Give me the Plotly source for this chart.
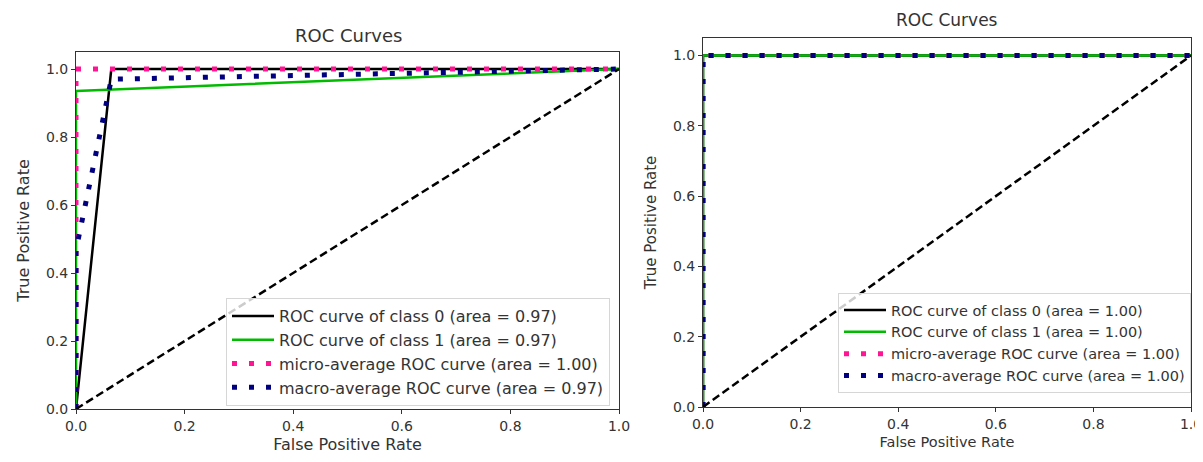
import plotly.graph_objects as go

# page body adds an 8px offset; the figure is sized to fill the remaining window
OFF = 8
W, H = 1203 - OFF, 462 - OFF

# ---------------- data ----------------
# Left panel
L_c0_fpr = [0.0, 0.065, 1.0]
L_c0_tpr = [0.0, 1.0, 1.0]
L_c1_fpr = [0.0, 0.0, 1.0]
L_c1_tpr = [0.0, 0.935, 1.0]
L_micro_fpr = [0.0, 0.0, 1.0]
L_micro_tpr = [0.0, 1.0, 1.0]
L_macro_fpr = [0.0, 0.0, 0.065, 1.0]
L_macro_tpr = [0.0, 0.4675, 0.97, 1.0]
L_labels = ["ROC curve of class 0 (area = 0.97)",
            "ROC curve of class 1 (area = 0.97)",
            "micro-average ROC curve (area = 1.00)",
            "macro-average ROC curve (area = 0.97)"]

# Right panel
R_c0_fpr = [0.0, 0.0, 1.0]
R_c0_tpr = [0.0, 1.0, 1.0]
R_c1_fpr = [0.0, 0.0, 1.0]
R_c1_tpr = [0.0, 1.0, 1.0]
R_micro_fpr = [0.0, 0.0, 1.0]
R_micro_tpr = [0.0, 1.0, 1.0]
R_macro_fpr = [0.0, 0.0, 1.0]
R_macro_tpr = [0.0, 1.0, 1.0]
R_labels = ["ROC curve of class 0 (area = 1.00)",
            "ROC curve of class 1 (area = 1.00)",
            "micro-average ROC curve (area = 1.00)",
            "macro-average ROC curve (area = 1.00)"]

diag = [0.0, 1.0]
ticks = [0.0, 0.2, 0.4, 0.6, 0.8, 1.0]
tick_text = ["0.0", "0.2", "0.4", "0.6", "0.8", "1.0"]
title = "ROC Curves"
xlab = "False Positive Rate"
ylab = "True Positive Rate"

# ---------------- styles ----------------
FONT = "DejaVu Sans"
TXT = "#333333"
styles = [
    dict(color="#000000", width=2.5, dash="solid"),
    dict(color="#00bb00", width=2.5, dash="solid"),
    dict(color="#ff1493", width=5, dash="5px,12px"),
    dict(color="#000080", width=5, dash="5px,12px"),
]

fig = go.Figure()

def add_panel(xa, ya, legend, series, labels):
    for (fx, ty), lab, st in zip(series, labels, styles):
        fig.add_trace(go.Scatter(x=fx, y=ty, mode="lines", name=lab, line=st,
                                 xaxis=xa, yaxis=ya, legend=legend))
    fig.add_trace(go.Scatter(x=diag, y=diag, mode="lines", showlegend=False,
                             line=dict(color="#000000", width=2.5, dash="8px,4px"),
                             xaxis=xa, yaxis=ya))

add_panel("x", "y", "legend",
          [(L_c0_fpr, L_c0_tpr), (L_c1_fpr, L_c1_tpr),
           (L_micro_fpr, L_micro_tpr), (L_macro_fpr, L_macro_tpr)], L_labels)
add_panel("x2", "y2", "legend2",
          [(R_c0_fpr, R_c0_tpr), (R_c1_fpr, R_c1_tpr),
           (R_micro_fpr, R_micro_tpr), (R_macro_fpr, R_macro_tpr)], R_labels)

# convert window pixel positions to paper fractions
def px_x(p):
    return (p - OFF) / W

def px_y(p):
    return (H - (p - OFF)) / H

def axis_common(fs):
    return dict(showgrid=False, zeroline=False, showline=True, mirror=True,
                linecolor="#333333", linewidth=1, ticks="outside", ticklen=4,
                tickcolor="#333333", tickfont=dict(family=FONT, size=fs, color=TXT),
                tickvals=ticks, ticktext=tick_text, automargin=False)

def leg_common(fs):
    return dict(xanchor="left", yanchor="top", itemwidth=42,
                bgcolor="rgba(255,255,255,0.8)", bordercolor="#d6d6d6", borderwidth=1,
                font=dict(family=FONT, size=fs, color=TXT))

fig.update_layout(
    width=W, height=H,
    margin=dict(l=0, r=0, t=0, b=0, autoexpand=False),
    paper_bgcolor="white", plot_bgcolor="white",
    font=dict(family=FONT, size=14, color=TXT),
    xaxis=dict(domain=[px_x(76), px_x(619)], range=[0, 1], anchor="y",
               title=dict(text=xlab, standoff=6, font=dict(family=FONT, size=16, color=TXT)),
               **axis_common(14)),
    yaxis=dict(domain=[px_y(409), px_y(52)], range=[0, 1.05], anchor="x",
               title=dict(text=ylab, standoff=12, font=dict(family=FONT, size=16, color=TXT)),
               **axis_common(14)),
    xaxis2=dict(domain=[px_x(703), px_x(1191)], range=[0, 1], anchor="y2",
                title=dict(text=xlab, standoff=6, font=dict(family=FONT, size=14.5, color=TXT)),
                **axis_common(14)),
    yaxis2=dict(domain=[px_y(407), px_y(38)], range=[0, 1.05], anchor="x2",
                title=dict(text=ylab, standoff=12, font=dict(family=FONT, size=15, color=TXT)),
                **axis_common(14)),
    legend=dict(x=px_x(226), y=px_y(298), **leg_common(16)),
    legend2=dict(x=px_x(838), y=px_y(293), **leg_common(14.5)),
    annotations=[
        dict(text=title, x=px_x(348), y=px_y(35), xref="paper", yref="paper",
             showarrow=False, xanchor="center", yanchor="middle",
             font=dict(family=FONT, size=18, color=TXT)),
        dict(text=title, x=px_x(947), y=px_y(20), xref="paper", yref="paper",
             showarrow=False, xanchor="center", yanchor="middle",
             font=dict(family=FONT, size=17, color=TXT)),
    ],
)

fig.write_html("out.html")
